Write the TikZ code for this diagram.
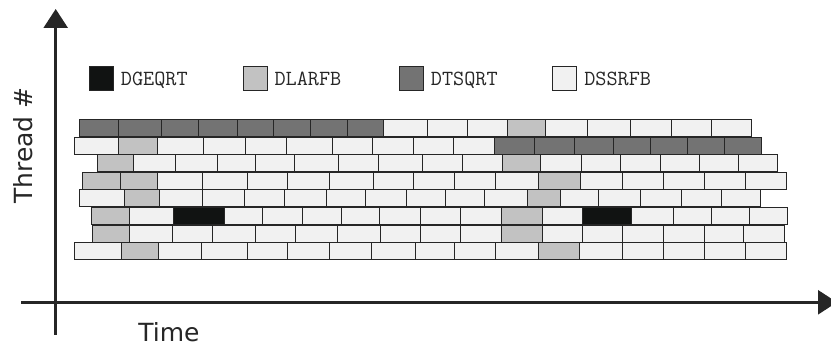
\documentclass[tikz,border=0pt]{standalone}
\usepackage{fontspec}
\setsansfont{DejaVu Sans}
\usepackage{tikz}
\usetikzlibrary{positioning,arrows.meta}
\definecolor{TGe}{HTML}{111312}
\definecolor{TLa}{HTML}{C2C2C2}
\definecolor{TTs}{HTML}{737373}
\definecolor{TSs}{HTML}{F1F1F1}
\definecolor{TEdge}{HTML}{262626}

\begin{document}
\begin{tikzpicture}[x=1pt, y=-1pt,
  task/.style={draw=TEdge, line width=0.8pt},
  swatch/.style={draw=TEdge, line width=0.8pt, minimum size=24pt, inner sep=0pt},
  legendtext/.style={font=\ttfamily\fontsize{21.6}{25}\selectfont, text=TEdge, inner sep=0pt, text depth=0pt, anchor=west},
  axis/.style={draw=TEdge, line width=2.6pt, -{Triangle[length=19pt,width=24pt]}},
  axislabel/.style={font=\sffamily\fontsize{25}{30}\selectfont, text=TEdge, inner sep=0pt, anchor=base}]
\useasboundingbox (0,0) rectangle (831,347);
% axes
\coordinate (ybot) at (55.7,335);   \coordinate (ytop) at (55.7,9);
\coordinate (xleft) at (21,302.3);  \coordinate (xright) at (837,302.3);
\draw[axis] (ybot) -- (ytop);
\draw[axis] (xleft) -- (xright);
\node[axislabel] (timelabel) at (169,342) {Time};
\node[axislabel, rotate=90] (threadlabel) at (32,145.5) {Thread \#};
% legend
\node[swatch, fill=TGe] (sw-geqrt) at (101.3,78.3) {};  \node[legendtext, right=7pt of sw-geqrt] (lg-geqrt) {DGEQRT};
\node[swatch, fill=TLa] (sw-larfb) at (255,78.3) {};    \node[legendtext, right=7pt of sw-larfb] (lg-larfb) {DLARFB};
\node[swatch, fill=TTs] (sw-tsqrt) at (411.3,78.3) {};  \node[legendtext, right=7pt of sw-tsqrt] (lg-tsqrt) {DTSQRT};
\node[swatch, fill=TSs] (sw-ssrfb) at (564.7,78.3) {};  \node[legendtext, right=7pt of sw-ssrfb] (lg-ssrfb) {DSSRFB};
% threads, top to bottom
\foreach \a/\b/\c in {79/118/TTs, 118/161/TTs, 161/198/TTs, 198/237/TTs, 237/273/TTs, 273/310/TTs, 310/347/TTs, 347/383/TTs, 383/427/TSs, 427/467/TSs, 467/507/TSs, 507/545/TLa, 545/587/TSs, 587/630/TSs, 630/671/TSs, 671/711/TSs, 711/751/TSs}
  \draw[task, fill=\c] (\a,119.5) rectangle (\b,136.5);
\foreach \a/\b/\c in {74/118/TSs, 118/157/TLa, 157/203/TSs, 203/245/TSs, 245/286/TSs, 286/332/TSs, 332/372/TSs, 372/413/TSs, 413/453/TSs, 453/494/TSs, 494/534/TTs, 534/574/TTs, 574/613/TTs, 613/650/TTs, 650/687/TTs, 687/724/TTs, 724/761/TTs}
  \draw[task, fill=\c] (\a,137.1) rectangle (\b,154.1);
\foreach \a/\b/\c in {97/133/TLa, 133/175/TSs, 175/217/TSs, 217/255/TSs, 255/294/TSs, 294/338/TSs, 338/378/TSs, 378/422/TSs, 422/462/TSs, 462/502/TSs, 502/540/TLa, 540/581/TSs, 581/620/TSs, 620/660/TSs, 660/699/TSs, 699/738/TSs, 738/777/TSs}
  \draw[task, fill=\c] (\a,154.7) rectangle (\b,171.7);
\foreach \a/\b/\c in {82/120/TLa, 120/157/TLa, 157/202/TSs, 202/247/TSs, 247/287/TSs, 287/329/TSs, 329/373/TSs, 373/413/TSs, 413/454/TSs, 454/495/TSs, 495/538/TSs, 538/580/TLa, 580/622/TSs, 622/663/TSs, 663/704/TSs, 704/745/TSs, 745/786/TSs}
  \draw[task, fill=\c] (\a,172.3) rectangle (\b,189.3);
\foreach \a/\b/\c in {79/124/TSs, 124/159/TLa, 159/202/TSs, 202/244/TSs, 244/284/TSs, 284/326/TSs, 326/365/TSs, 365/406/TSs, 406/445/TSs, 445/484/TSs, 484/527/TSs, 527/560/TLa, 560/598/TSs, 598/640/TSs, 640/681/TSs, 681/721/TSs, 721/760/TSs}
  \draw[task, fill=\c] (\a,189.9) rectangle (\b,206.9);
\foreach \a/\b/\c in {91/129/TLa, 129/173/TSs, 173/224/TGe, 224/262/TSs, 262/302/TSs, 302/341/TSs, 341/379/TSs, 379/420/TSs, 420/460/TSs, 460/501/TSs, 501/542/TLa, 542/582/TSs, 582/631/TGe, 631/673/TSs, 673/711/TSs, 711/749/TSs, 749/787/TSs}
  \draw[task, fill=\c] (\a,207.5) rectangle (\b,224.5);
\foreach \a/\b/\c in {92/129/TLa, 129/172/TSs, 172/212/TSs, 212/255/TSs, 255/295/TSs, 295/337/TSs, 337/380/TSs, 380/420/TSs, 420/460/TSs, 460/501/TSs, 501/542/TLa, 542/582/TSs, 582/622/TSs, 622/663/TSs, 663/704/TSs, 704/743/TSs, 743/784/TSs}
  \draw[task, fill=\c] (\a,225.1) rectangle (\b,242.1);
\foreach \a/\b/\c in {74/121/TSs, 121/158/TLa, 158/201/TSs, 201/247/TSs, 247/287/TSs, 287/329/TSs, 329/371/TSs, 371/415/TSs, 415/454/TSs, 454/495/TSs, 495/538/TSs, 538/579/TLa, 579/622/TSs, 622/663/TSs, 663/704/TSs, 704/745/TSs, 745/786/TSs}
  \draw[task, fill=\c] (\a,242.7) rectangle (\b,259.7);
\end{tikzpicture}
\end{document}
